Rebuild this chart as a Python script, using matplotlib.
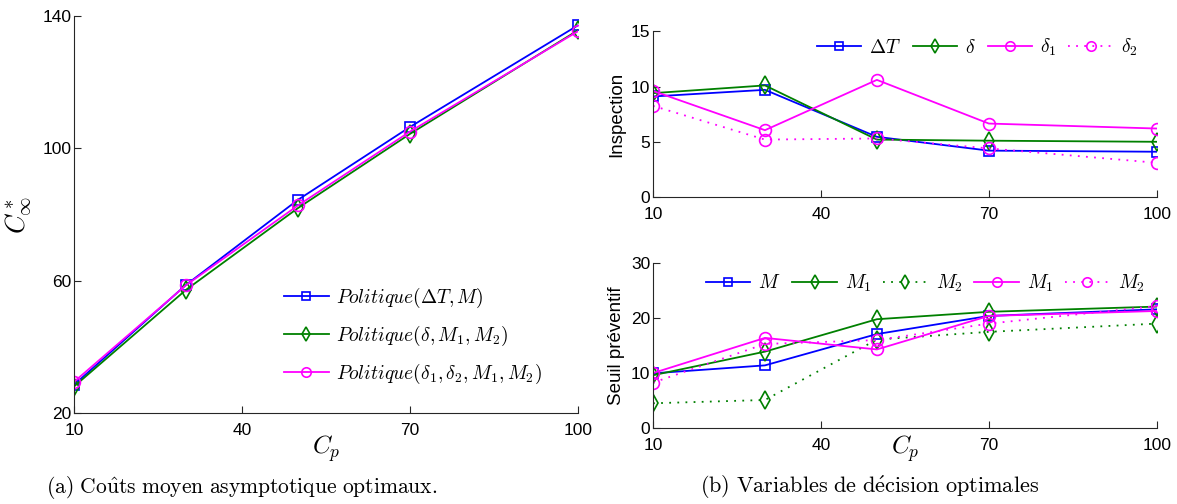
import numpy as np
import matplotlib
matplotlib.use("Agg")
import matplotlib.pyplot as plt

plt.rcParams['mathtext.fontset'] = 'cm'
plt.rcParams['font.family'] = ['Liberation Sans', 'DejaVu Sans']

# Data
cp = [10, 30, 50, 70, 100]

# (a) cost
cost_dT_M = [28.5, 58.7, 84.4, 106.4, 137.1]
cost_d_M1_M2 = [28.0, 57.2, 81.9, 104.3, 135.6]
cost_d1_d2_M1_M2 = [29.4, 58.6, 82.7, 105.0, 135.3]

# (b) inspection
insp_dT = [9.1, 9.7, 5.45, 4.2, 4.1]
insp_d = [9.4, 10.1, 5.2, 5.1, 5.0]
insp_d1 = [9.6, 6.05, 10.6, 6.65, 6.2]
insp_d2 = [8.25, 5.2, 5.3, 4.4, 3.1]

# (b) preventive threshold
seuil_M = [9.95, 11.4, 17.1, 20.4, 21.6]
seuil_M1_g = [9.6, 13.9, 19.8, 21.15, 22.1]
seuil_M2_g = [4.5, 5.1, 16.1, 17.5, 19.0]
seuil_M1_m = [10.0, 16.4, 14.3, 20.4, 21.3]
seuil_M2_m = [8.25, 15.3, 16.0, 19.0, 22.2]

blue = '#0000ff'
green = '#008000'
mag = '#ff00ff'
dot = (0, (1, 3.5))
lw = 1.3
axc = '#262626'

fig = plt.figure(figsize=(11.77, 5.04), dpi=100)

def style(ax, xt, yt, ylim):
    ax.set_xlim(10, 100)
    ax.set_ylim(*ylim)
    ax.set_xticks(xt)
    ax.set_yticks(yt)
    for s in ['top', 'right']:
        ax.spines[s].set_visible(False)
    for s in ['left', 'bottom']:
        ax.spines[s].set_color(axc)
        ax.spines[s].set_linewidth(0.8)
    ax.tick_params(direction='in', length=5, width=0.8, color=axc,
                   labelsize=12.5, labelcolor='black')
    ax.tick_params(axis='x', pad=7)
    ax.tick_params(axis='y', pad=2)

leg_kw = dict(frameon=False, fontsize=14, handlelength=2.3, handletextpad=0.4,
              markerscale=0.8)

# ---------------- (a) ----------------
ax1 = fig.add_axes([0.0629, 0.1806, 0.428, 0.788])
ax1.plot(cp, cost_dT_M, color=blue, lw=lw, marker='s', ms=7, mfc='none', mew=1.2,
         label=r'$Politique(\Delta T, M)$')
ax1.plot(cp, cost_d_M1_M2, color=green, lw=lw, marker='d', ms=9, mfc='none', mew=1.2,
         label=r'$Politique(\delta, M_1, M_2)$')
ax1.plot(cp, cost_d1_d2_M1_M2, color=mag, lw=lw, marker='o', ms=8.5, mfc='none', mew=1.2,
         label=r'$Politique(\delta_1, \delta_2, M_1, M_2)$')
style(ax1, [10, 40, 70, 100], [20, 60, 100, 140], (20, 140))
ax1.set_ylabel(r'$C^*_\infty$', fontsize=19, labelpad=6)
ax1.set_xlabel(r'$C_p$', fontsize=18, labelpad=-3)
ax1.legend(loc='lower left', bbox_to_anchor=(0.382, 0.025), labelspacing=0.7, **leg_kw)

# ---------------- (b) top ----------------
ax2 = fig.add_axes([0.5548, 0.609, 0.428, 0.329])
ax2.plot(cp, insp_dT, color=blue, lw=lw, marker='s', ms=7, mfc='none', mew=1.2, label=r'$\Delta T$')
ax2.plot(cp, insp_d, color=green, lw=lw, marker='d', ms=9, mfc='none', mew=1.2, label=r'$\delta$')
ax2.plot(cp, insp_d1, color=mag, lw=lw, marker='o', ms=8.5, mfc='none', mew=1.2, label=r'$\delta_1$')
ax2.plot(cp, insp_d2, color=mag, lw=lw, ls=dot, marker='o', ms=8.5, mfc='none', mew=1.2, label=r'$\delta_2$')
style(ax2, [10, 40, 70, 100], [0, 5, 10, 15], (0, 15))
ax2.set_ylabel('Inspection', fontsize=13.5, labelpad=4)
ax2.legend(loc='upper left', bbox_to_anchor=(0.29, 1.07), ncol=4, columnspacing=0.6, **leg_kw)

# ---------------- (b) bottom ----------------
ax3 = fig.add_axes([0.5548, 0.1508, 0.428, 0.327])
ax3.plot(cp, seuil_M, color=blue, lw=lw, marker='s', ms=7, mfc='none', mew=1.2, label=r'$M$')
ax3.plot(cp, seuil_M1_g, color=green, lw=lw, marker='d', ms=9, mfc='none', mew=1.2, label=r'$M_1$')
ax3.plot(cp, seuil_M2_g, color=green, lw=lw, ls=dot, marker='d', ms=9, mfc='none', mew=1.2, label=r'$M_2$')
ax3.plot(cp, seuil_M1_m, color=mag, lw=lw, marker='o', ms=8.5, mfc='none', mew=1.2, label=r'$M_1$')
ax3.plot(cp, seuil_M2_m, color=mag, lw=lw, ls=dot, marker='o', ms=8.5, mfc='none', mew=1.2, label=r'$M_2$')
style(ax3, [10, 40, 70, 100], [0, 10, 20, 30], (0, 30))
ax3.set_ylabel('Seuil préventif', fontsize=13.5, labelpad=4)
ax3.set_xlabel(r'$C_p$', fontsize=18, labelpad=-14)
ax3.legend(loc='upper left', bbox_to_anchor=(0.07, 1.05), ncol=5, columnspacing=0.6, **leg_kw)

# Captions
fig.text(0.205, 0.032, r'$\mathrm{(a)\ Co\hat{u}ts\ moyen\ asymptotique\ optimaux.}$',
         ha='center', va='center', fontsize=15.5)
fig.text(0.739, 0.032, r'$\mathrm{(b)\ Variables\ de\ d\acute{e}cision\ optimales}$',
         ha='center', va='center', fontsize=16)

fig.savefig('out.png', dpi=100)
